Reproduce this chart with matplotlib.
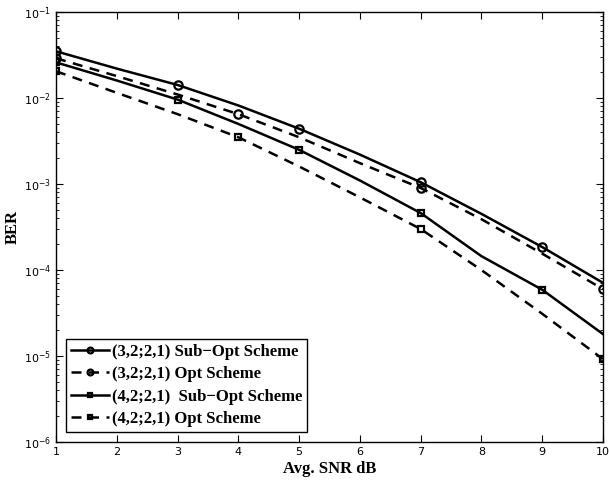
import matplotlib
matplotlib.use("Agg")
import matplotlib.pyplot as plt
from matplotlib.ticker import LogLocator, NullFormatter

snr = [1, 2, 3, 4, 5, 6, 7, 8, 9, 10]

# (3,2;2,1)
ber_32_sub = [3.5e-2, 2.2e-2, 1.42e-2, 8.2e-3, 4.4e-3, 2.2e-3, 1.05e-3, 4.5e-4, 1.85e-4, 7.1e-5]
ber_32_opt = [2.9e-2, 1.8e-2, 1.1e-2, 6.5e-3, 3.5e-3, 1.75e-3, 9.0e-4, 3.9e-4, 1.55e-4, 6.0e-5]
# (4,2;2,1)
ber_42_sub = [2.6e-2, 1.6e-2, 9.6e-3, 5.0e-3, 2.5e-3, 1.1e-3, 4.6e-4, 1.45e-4, 5.9e-5, 1.8e-5]
ber_42_opt = [2.05e-2, 1.15e-2, 6.5e-3, 3.5e-3, 1.6e-3, 7.0e-4, 3.0e-4, 1.0e-4, 3.1e-5, 9.2e-6]

labels = ["(3,2;2,1) Sub\u2212Opt Scheme", "(3,2;2,1) Opt Scheme",
          "(4,2;2,1)  Sub\u2212Opt Scheme", "(4,2;2,1) Opt Scheme"]

fig = plt.figure(figsize=(6.09, 4.83), dpi=100)
ax = fig.add_axes([0.092, 0.085, 0.898, 0.89])

sub_marks = [0, 2, 4, 6, 8]
opt_marks = [0, 3, 6, 9]
style = dict(color="black", lw=1.8, mfc="none", mew=1.6)
ax.plot(snr, ber_32_sub, "-", marker="o", ms=6, markevery=sub_marks, label=labels[0], **style)
ax.plot(snr, ber_32_opt, "--", marker="o", ms=6, markevery=opt_marks, label=labels[1],
        dashes=(4, 3), **style)
ax.plot(snr, ber_42_sub, "-", marker="s", ms=5, markevery=sub_marks, label=labels[2], **style)
ax.plot(snr, ber_42_opt, "--", marker="s", ms=5, markevery=opt_marks, label=labels[3],
        dashes=(4, 3), **style)

ax.set_yscale("log")
ax.set_xlim(1, 10)
ax.set_ylim(1e-6, 1e-1)
ax.set_xticks(range(1, 11))
ax.yaxis.set_minor_locator(LogLocator(base=10, subs=range(2, 10)))
ax.yaxis.set_minor_formatter(NullFormatter())
ax.tick_params(which="both", direction="in", top=True, right=True, labelsize=8)
ax.tick_params(which="major", length=5)
ax.tick_params(which="minor", length=2.5)
for s in ax.spines.values():
    s.set_linewidth(1.0)

ax.set_xlabel("Avg. SNR dB", fontfamily="Liberation Serif", fontweight="bold", fontsize=12, labelpad=3)
ax.set_ylabel("BER", fontfamily="Liberation Serif", fontweight="bold", fontsize=12, labelpad=2)

leg = ax.legend(loc="lower left", prop={"family": "Liberation Serif", "weight": "bold", "size": 12},
                fancybox=False, edgecolor="black", framealpha=1, handlelength=2.3,
                handletextpad=0.15, borderpad=0.3, labelspacing=0.38, borderaxespad=0.6,
                markerscale=0.7)
leg.get_frame().set_linewidth(1.0)

fig.savefig("out.png", dpi=100)
